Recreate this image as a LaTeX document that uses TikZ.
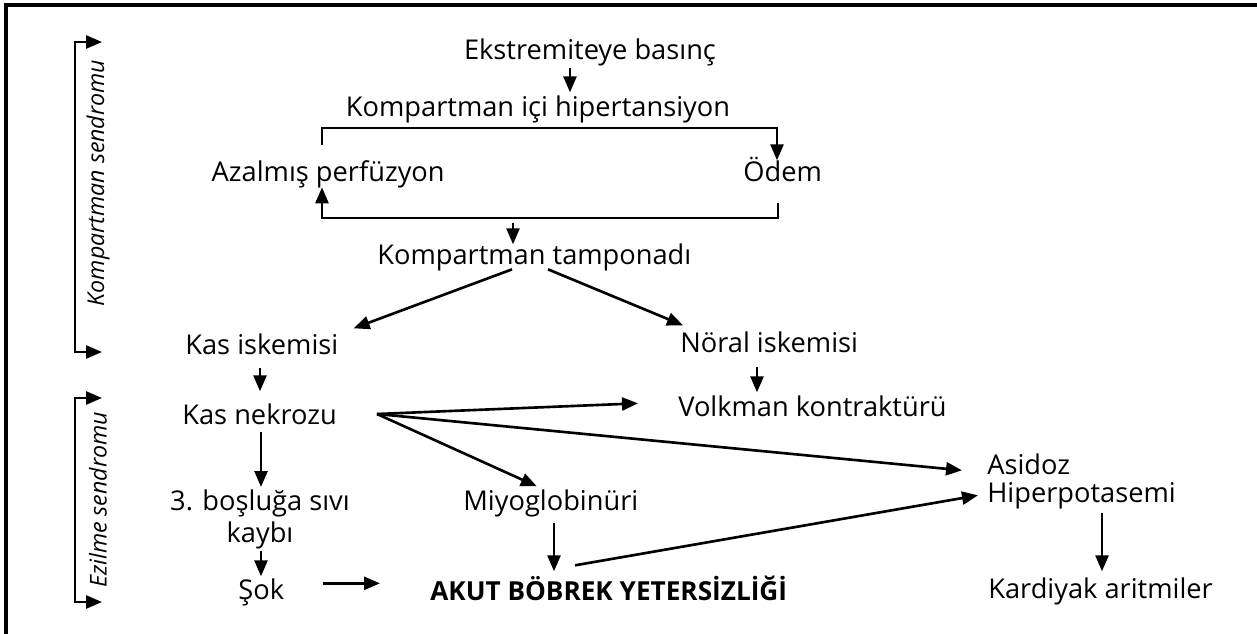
\documentclass[tikz,border=0pt]{standalone}
\usepackage{fontspec}
\setmainfont{Open Sans}
\usetikzlibrary{arrows.meta,positioning,calc}
\tikzset{
  termnode/.style={inner sep=0pt,text height=11pt,text depth=0pt,font=\fontsize{15.5}{18.2}\selectfont},
  twoline/.style={inner sep=0pt,align=center,font=\fontsize{15.5}{18.2}\selectfont},
  boldnode/.style={termnode,font=\bfseries\fontsize{14.9}{18.2}\selectfont},
  sidelabel/.style={rotate=90,inner sep=0pt,font=\itshape\fontsize{13.2}{16}\selectfont},
  flowarrow/.style={-{Triangle[length=3.2mm,width=2.6mm]},line width=1.5pt},
  bracketline/.style={{Triangle[length=3.2mm,width=2.6mm]}-{Triangle[length=3.2mm,width=2.6mm]},line width=1.5pt},
  frameline/.style={line width=2pt}
}
\begin{document}
\begin{tikzpicture}[x=0.02cm,y=-0.02cm]
  \useasboundingbox (0,0) rectangle (1257,634);
  % frame, only top and left edges show
  \draw[frameline] (6,634) -- (6,5) -- (1257,5);
  % side brackets
  \coordinate (kTop) at (102,42);
  \coordinate (kBot) at (102,352);
  \coordinate (eTop) at (102,398);
  \coordinate (eBot) at (102,602);
  \draw[bracketline] (kTop) -| (75,200) |- (kBot);
  \draw[bracketline] (eTop) -| (75,500) |- (eBot);
  \node[sidelabel] (kLabel) at (98,183) {Kompartman sendromu};
  \node[sidelabel] (eLabel) at (98,500) {Ezilme sendromu};
  % nodes
  \node[termnode,anchor=base] (press) at (590,60) {Ekstremiteye basınç};
  \node[termnode,anchor=base] (hyper) at (538,117) {Kompartman içi hipertansiyon};
  \node[termnode,anchor=base east] (perf) at (445,182) {Azalmış perfüzyon};
  \node[termnode,anchor=base west] (edema) at (743,182) {Ödem};
  \node[termnode,anchor=base west] (tamp) at (377,265) {Kompartman tamponadı};
  \node[termnode,anchor=base west] (musIsc) at (185,355) {Kas iskemisi};
  \node[termnode,anchor=base west] (neuIsc) at (680,353) {Nöral iskemisi};
  \node[termnode,anchor=base west] (musNec) at (182,425) {Kas nekrozu};
  \node[termnode,anchor=base west] (volk) at (678,417) {Volkman kontraktürü};
  \node[twoline,anchor=north] (fluid) at (260,489) {3. boşluğa sıvı\\kaybı};
  \node[termnode,anchor=base west] (myo) at (463,510) {Miyoglobinüri};
  \node[termnode,anchor=base west] (acid) at (987,475) {Asidoz};
  \node[termnode,anchor=base west] (hypK) at (987,502) {Hiperpotasemi};
  \node[termnode,anchor=base west] (shock) at (238,599) {Şok};
  \node[boldnode,anchor=base west] (arf) at (430,600) {AKUT BÖBREK YETERSİZLİĞİ};
  \node[termnode,anchor=base west] (arrh) at (988,598) {Kardiyak aritmiler};
  % loop between perfusion and edema
  \coordinate (loopTL) at (322,145);
  \coordinate (loopTR) at (777,128);
  \coordinate (loopBR) at (778,203);
  \coordinate (loopBL) at (322,218);
  \draw[flowarrow] (loopTL) |- (loopTR) -- ($(loopTR |- edema.north)+(0,-2)$);
  \draw[flowarrow] (loopBR) |- (loopBL) -- ($(loopBL |- perf.south)+(0,5)$);
  \coordinate (tampIn) at (513,223);
  \draw[flowarrow] (tampIn) -- ($(tampIn |- tamp.north)+(0,-1)$);
  % connectors
  \draw[flowarrow] ($(press.south -| 570,0)+(0,8)$) -- ($(hyper.north -| 570,0)+(0,-5)$);
  \draw[flowarrow] ($(tamp.south -| 512,0)+(0,4)$) -- ($(musIsc.north east)+(15,-7)$);
  \draw[flowarrow] ($(tamp.south -| 548,0)+(0,4)$) -- ($(neuIsc.north west)+(3,-8)$);
  \draw[flowarrow] ($(musIsc.south -| 260,0)+(0,13)$) -- ($(musNec.north -| 260,0)+(0,-14)$);
  \draw[flowarrow] ($(neuIsc.south -| 757,0)+(0,14)$) -- ($(volk.north -| 757,0)+(0,-5)$);
  \coordinate (fan) at (377,414);
  \draw[flowarrow] (fan) -- ($(volk.west)+(-40,-4)$);
  \draw[flowarrow] (fan) -- ($(acid.west)+(-25,5)$);
  \draw[flowarrow] (fan) -- ($(myo.north)+(-14,-4)$);
  \draw[flowarrow] ($(musNec.south -| 261,0)+(0,7)$) -- ($(fluid.north -| 261,0)+(0,-2)$);
  \draw[flowarrow] ($(fluid.south -| 261,0)+(0,2)$) -- ($(shock.north -| 261,0)+(0,-3)$);
  \draw[flowarrow] ($(shock.east)+(39,-6)$) -- ($(arf.west)+(-50,-7)$);
  \draw[flowarrow] ($(myo.south -| 554,0)+(0,13)$) -- ($(arf.north -| 554,0)+(0,-9)$);
  \draw[flowarrow] ($(arf.north west)+(145,-15)$) -- ($(hypK.west)+(-9,3)$);
  \draw[flowarrow] ($(hypK.south -| 1102,0)+(0,11)$) -- ($(arrh.north -| 1102,0)+(0,-7)$);
\end{tikzpicture}
\end{document}
